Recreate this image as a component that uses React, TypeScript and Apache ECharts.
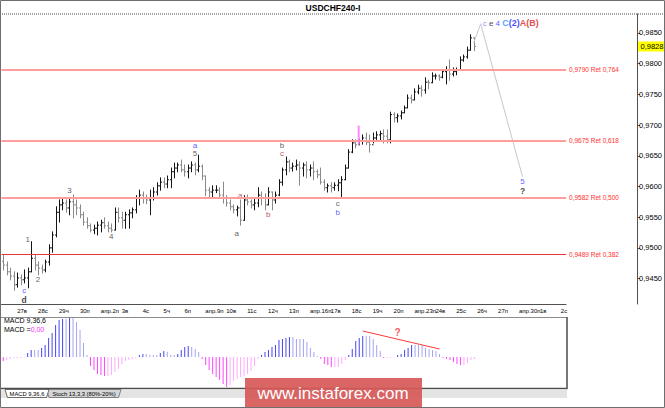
import React, { useEffect, useRef } from 'react';
import * as echarts from 'echarts';

// trading days on the time axis (weekends are skipped by the terminal)
const tradingDays = [
  '03.26', '03.27', '03.28', '03.29', '03.30', '04.02', '04.03', '04.04', '04.05', '04.06',
  '04.09', '04.10', '04.11', '04.12', '04.13', '04.16', '04.17', '04.18', '04.19', '04.20',
  '04.23', '04.24', '04.25', '04.26', '04.27', '04.30', '05.01', '05.02',
];
// labels of days 1..27 (first visible day has no label)
const dayLabels = [
  '27в', '28с', '29ч', '30п', 'апр.2п', '3в', '4с', '5ч', '6п', 'апр.9п',
  '10в', '11с', '12ч', '13п', 'апр.16п', '17в', '18с', '19ч', '20п', 'апр.23п',
  '24в', '25с', '26ч', '27п', 'апр.30п', '1в', '2с',
];
const barCount = 162;

const barOpen = [
  0.9478, 0.9472, 0.9461, 0.9454, 0.944, 0.9451, 0.9448, 0.9451, 0.9461, 0.9483,
  0.9472, 0.9467, 0.9464, 0.9477, 0.95, 0.9521, 0.9558, 0.957, 0.9573, 0.9565,
  0.9575, 0.957, 0.9565, 0.9554, 0.9542, 0.9536, 0.9529, 0.9532, 0.9537, 0.9541,
  0.9536, 0.9532, 0.9529, 0.9558, 0.9549, 0.9545, 0.9554, 0.9557, 0.9562, 0.9581,
  0.9586, 0.9581, 0.9578, 0.9581, 0.9591, 0.9601, 0.9607, 0.9604, 0.9611, 0.9624,
  0.963, 0.9635, 0.9627, 0.9624, 0.963, 0.9635, 0.9627, 0.9633, 0.9617, 0.9594,
  0.9591, 0.9594, 0.9594, 0.9586, 0.9581, 0.9573, 0.9567, 0.9562, 0.9565, 0.9545,
  0.9578, 0.9575, 0.957, 0.9573, 0.9586, 0.9581, 0.957, 0.9591, 0.9578, 0.9586,
  0.9607, 0.9627, 0.964, 0.963, 0.9633, 0.9635, 0.963, 0.9635, 0.9627, 0.963,
  0.9624, 0.9619, 0.9607, 0.9598, 0.9601, 0.9598, 0.9602, 0.9606, 0.9611, 0.963,
  0.9656, 0.9671, 0.9668, 0.9674, 0.9679, 0.9672, 0.9668, 0.9679, 0.9684, 0.9686,
  0.9682, 0.9676, 0.9717, 0.9712, 0.9715, 0.972, 0.9728, 0.9744, 0.9741, 0.9754,
  0.976, 0.9757, 0.977, 0.9769, 0.978, 0.978, 0.9778, 0.9787, 0.979, 0.9783,
  0.9787, 0.979, 0.9806, 0.9811, 0.9822, 0.9842,
];
const barHigh = [
  0.9488, 0.9477, 0.9467, 0.9461, 0.9459, 0.9456, 0.9464, 0.9467, 0.951, 0.9488,
  0.9477, 0.9472, 0.948, 0.9505, 0.9526, 0.9567, 0.9578, 0.9581, 0.9578, 0.9581,
  0.9586, 0.9578, 0.957, 0.9558, 0.9549, 0.9539, 0.9537, 0.9542, 0.9545, 0.9549,
  0.9542, 0.9539, 0.9565, 0.9565, 0.9558, 0.9558, 0.9562, 0.9565, 0.9585, 0.9594,
  0.9591, 0.9586, 0.9594, 0.9598, 0.9606, 0.9614, 0.9614, 0.9617, 0.963, 0.9638,
  0.9638, 0.9643, 0.9635, 0.9635, 0.964, 0.9638, 0.9651, 0.9635, 0.9617, 0.9598,
  0.9601, 0.9601, 0.9598, 0.9607, 0.9585, 0.9578, 0.957, 0.9568, 0.9578, 0.9585,
  0.9586, 0.9578, 0.9581, 0.9598, 0.9591, 0.9588, 0.9598, 0.9591, 0.9591, 0.9611,
  0.963, 0.9648, 0.9643, 0.9638, 0.9643, 0.964, 0.9638, 0.964, 0.9635, 0.964,
  0.9627, 0.963, 0.9611, 0.9604, 0.9606, 0.9606, 0.9611, 0.9616, 0.9635, 0.966,
  0.9676, 0.9676, 0.9677, 0.9684, 0.9687, 0.9684, 0.9687, 0.9689, 0.969, 0.9692,
  0.9692, 0.9721, 0.972, 0.9718, 0.9723, 0.9731, 0.9749, 0.9749, 0.9759, 0.9765,
  0.9764, 0.9777, 0.9773, 0.9785, 0.9783, 0.9782, 0.979, 0.9795, 0.9806, 0.9793,
  0.9793, 0.9811, 0.9814, 0.9827, 0.9847, 0.9842,
];
const barLow = [
  0.9464, 0.9456, 0.9448, 0.9431, 0.9436, 0.944, 0.9443, 0.9435, 0.9461, 0.9464,
  0.9456, 0.9459, 0.9461, 0.9472, 0.9493, 0.9518, 0.9542, 0.9562, 0.9558, 0.9554,
  0.9549, 0.9554, 0.9549, 0.9537, 0.9532, 0.9526, 0.9523, 0.9521, 0.9526, 0.9532,
  0.9526, 0.9526, 0.9529, 0.9542, 0.9532, 0.9532, 0.9532, 0.9549, 0.9557, 0.957,
  0.9573, 0.9572, 0.9554, 0.9578, 0.9586, 0.9594, 0.9598, 0.9598, 0.9598, 0.9614,
  0.9624, 0.9624, 0.9617, 0.9614, 0.9624, 0.9619, 0.9624, 0.9611, 0.9585, 0.9581,
  0.9583, 0.959, 0.9583, 0.9573, 0.9568, 0.9562, 0.9557, 0.9552, 0.9537, 0.9545,
  0.957, 0.9565, 0.9562, 0.9567, 0.957, 0.9562, 0.957, 0.9562, 0.9573, 0.9585,
  0.9602, 0.9619, 0.9624, 0.9625, 0.9627, 0.9602, 0.9617, 0.9614, 0.9617, 0.9611,
  0.9614, 0.9604, 0.9594, 0.9591, 0.9591, 0.9594, 0.9593, 0.9581, 0.9611, 0.963,
  0.9655, 0.9663, 0.9668, 0.9669, 0.9668, 0.9656, 0.9671, 0.9674, 0.9676, 0.9671,
  0.9671, 0.9671, 0.9705, 0.9705, 0.971, 0.972, 0.9728, 0.9736, 0.9741, 0.9751,
  0.9747, 0.9752, 0.9759, 0.9769, 0.9775, 0.9773, 0.9777, 0.9767, 0.9773, 0.978,
  0.9782, 0.979, 0.9804, 0.9809, 0.9822, 0.9821,
];
const barClose = [
  0.9472, 0.9461, 0.9454, 0.944, 0.9451, 0.9448, 0.9451, 0.9461, 0.9483, 0.9472,
  0.9467, 0.9464, 0.9477, 0.95, 0.9521, 0.9558, 0.957, 0.9573, 0.9565, 0.9575,
  0.957, 0.9565, 0.9554, 0.9542, 0.9536, 0.9529, 0.9532, 0.9537, 0.9541, 0.9536,
  0.9532, 0.9529, 0.9558, 0.9549, 0.9545, 0.9554, 0.9557, 0.9562, 0.9581, 0.9586,
  0.9581, 0.9578, 0.9581, 0.9591, 0.9601, 0.9607, 0.9604, 0.9611, 0.9624, 0.963,
  0.9635, 0.9627, 0.9624, 0.963, 0.9635, 0.9627, 0.9633, 0.9617, 0.9594, 0.9591,
  0.9594, 0.9594, 0.9586, 0.9581, 0.9573, 0.9567, 0.9562, 0.9565, 0.9545, 0.9578,
  0.9575, 0.957, 0.9573, 0.9586, 0.9581, 0.957, 0.9591, 0.9578, 0.9586, 0.9607,
  0.9627, 0.964, 0.963, 0.9633, 0.9635, 0.963, 0.9635, 0.9627, 0.963, 0.9624,
  0.9619, 0.9607, 0.9598, 0.9601, 0.9598, 0.9602, 0.9606, 0.9611, 0.963, 0.9656,
  0.9671, 0.9668, 0.9674, 0.9679, 0.9672, 0.9668, 0.9679, 0.9684, 0.9686, 0.9682,
  0.9676, 0.9717, 0.9712, 0.9715, 0.972, 0.9728, 0.9744, 0.9741, 0.9754, 0.976,
  0.9757, 0.977, 0.9769, 0.978, 0.978, 0.9778, 0.9787, 0.979, 0.9783, 0.9787,
  0.979, 0.9806, 0.9811, 0.9822, 0.9842, 0.9828,
];

// MACD 9,36,6 histogram
const macdHist = [
  -4, -3, -2, -1, -1, -1, -0.5,
  4, 7, 7, 7, 9, 12, 19, 24, 32, 37, 38, 38, 39, 39, 35, 27, 14, 2,
  -9, -13, -17, -18, -19, -19, -18, -15, -12, -7, -4, -3, -2, -1,
  2, 3, 3, 2, 2, 2, 4, 6, 5, 2, 2, 3, 7, 10, 11, 10, 8, 5,
  -2, -8, -13, -17, -20, -23, -27, -30, -28, -24, -22, -20, -19, -17, -14, -9, -2,
  2, 5, 7, 10, 12, 17, 18, 19, 20, 20, 18, 18, 18, 15, 9, 5, 1,
  -2, -7, -8, -10, -10, -10, -7, -3,
  2, 8, 16, 19, 21, 21, 21, 18, 12, 6,
  -1, -1, -1, -0.5,
  2, 3, 7, 9, 12, 12, 12, 12, 9, 8, 7, 6, 3,
  -1, -2, -3, -5, -7, -8, -8, -6, -3, -2,
];

const priceTicks = [0.945, 0.95, 0.955, 0.96, 0.965, 0.97, 0.975, 0.98, 0.985];
const fibPrices = [0.979, 0.9675, 0.9582, 0.9489];
const fibRatios = ['0,764', '0,618', '0,500', '0,382'];

// wave counts: bar index, price, text, tone
const waveMarks = [
  { bar: 6, price: 0.9431, text: 'c', tone: 'blue' },
  { bar: 6, price: 0.9415, text: 'd', tone: 'bold' },
  { bar: 7, price: 0.9513, text: '1', tone: 'dark' },
  { bar: 10, price: 0.9448, text: '2', tone: 'dark' },
  { bar: 19, price: 0.9594, text: '3', tone: 'dark' },
  { bar: 31, price: 0.9519, text: '4', tone: 'dark' },
  { bar: 55, price: 0.9667, text: 'a', tone: 'blue' },
  { bar: 55, price: 0.9653, text: '5', tone: 'dark' },
  { bar: 67, price: 0.9524, text: 'a', tone: 'dark' },
  { bar: 68, price: 0.9586, text: 'a', tone: 'red' },
  { bar: 76, price: 0.9554, text: 'b', tone: 'red' },
  { bar: 80, price: 0.9667, text: 'b', tone: 'dark' },
  { bar: 80, price: 0.9653, text: 'c', tone: 'red' },
  { bar: 96, price: 0.9572, text: 'c', tone: 'dark' },
  { bar: 96, price: 0.9558, text: 'b', tone: 'blue' },
  { bar: 149, price: 0.9608, text: '5', tone: 'blue' },
  { bar: 149, price: 0.9592, text: '?', tone: 'bold' },
];
const topMark = [137, 0.9866];
const projectionPath = [[135, 0.9834], [137, 0.9865], [149, 0.9616]];
const markerBar = 102;
const markerRange = [0.9699, 0.9668];
const macdTrend = [[103, 26], [125, 8]];
const macdQuestion = [113, 25];

const toneStyle: Record<string, any> = {
  blue: { color: '#3434ff', fontSize: 8 },
  red: { color: '#a52a2a', fontSize: 8 },
  dark: { color: '#333333', fontSize: 8 },
  bold: { color: '#111111', fontSize: 8.5, fontWeight: 'bold' },
};

const fmtPrice = (v: number) => v.toFixed(4).replace('.', ',');
const isDayStart = (i: number) => i >= 4 && (i - 4) % 6 === 0;

const categories: string[] = [];
tradingDays.forEach((d, k) => {
  for (let h = 0; h < 24; h += 4) {
    if (k === 0 && h < 8) continue;
    if (categories.length < barCount) categories.push(`${d} ${h}:00`);
  }
});

const FONT = '"Liberation Sans", Arial, sans-serif';

const App: React.FC = () => {
  const ref = useRef<HTMLDivElement>(null);
  useEffect(() => {
    const chart = echarts.init(ref.current as HTMLDivElement, null, { renderer: 'svg' });
    const ohlc = barClose.map((c, i) => [i, barOpen[i], barHigh[i], barLow[i], c]);
    const macdData = macdHist.map((v, i) => {
      const prev = i > 0 ? macdHist[i - 1] : 0;
      let color;
      if (v >= 0) color = v > prev ? '#4646f0' : '#a4a4f2';
      else color = v < prev ? '#ff44ff' : '#ffaaff';
      return { value: v, itemStyle: { color } };
    });

    const option: any = {
      animation: false,
      backgroundColor: '#ffffff',
      textStyle: { fontFamily: FONT },
      grid: [
        { left: 1.5, top: 14, width: 565.4, height: 290 },
        { left: 1.5, top: 317, width: 565.4, height: 71 },
      ],
      xAxis: [
        {
          type: 'category',
          gridIndex: 0,
          data: categories,
          axisLine: { lineStyle: { color: '#505050', width: 1 } },
          axisTick: { interval: isDayStart, length: 3, lineStyle: { color: '#505050' } },
          axisLabel: {
            interval: isDayStart,
            formatter: (_v: string, i: number) => dayLabels[(i - 4) / 6] ?? '',
            align: 'left',
            fontSize: 6,
            color: '#000',
            margin: 3.5,
          },
          splitLine: { show: false },
        },
        { type: 'category', gridIndex: 1, data: categories, show: false },
      ],
      yAxis: [
        {
          type: 'value',
          gridIndex: 0,
          position: 'right',
          offset: 71,
          min: 0.94086,
          max: 0.98809,
          axisLine: { show: true, lineStyle: { color: '#505050' } },
          axisTick: { show: true, length: 3, customValues: priceTicks, lineStyle: { color: '#505050' } },
          axisLabel: { customValues: priceTicks, formatter: fmtPrice, fontSize: 7.5, color: '#000', margin: 2 },
          splitLine: { show: false },
        },
        { type: 'value', gridIndex: 1, min: -31, max: 40, show: false },
      ],
      series: [
        {
          type: 'custom',
          xAxisIndex: 0,
          yAxisIndex: 0,
          data: ohlc,
          encode: { x: 0, y: [1, 2, 3, 4] },
          silent: true,
          renderItem: (_p: any, api: any) => {
            const i = api.value(0);
            const o = api.coord([i, api.value(1)]);
            const h = api.coord([i, api.value(2)]);
            const l = api.coord([i, api.value(3)]);
            const c = api.coord([i, api.value(4)]);
            const x = Math.round(o[0]) + 0.5;
            const stroke = api.value(4) >= api.value(1) ? '#151515' : '#8a8a8a';
            const style = { stroke, lineWidth: 1 };
            return {
              type: 'group',
              children: [
                { type: 'line', shape: { x1: x, y1: h[1] - 0.5, x2: x, y2: l[1] + 0.5 }, style },
                { type: 'line', shape: { x1: x - 1.5, y1: o[1], x2: x, y2: o[1] }, style },
                { type: 'line', shape: { x1: x, y1: c[1], x2: x + 1.5, y2: c[1] }, style },
              ],
            };
          },
        },
        {
          type: 'line',
          xAxisIndex: 0,
          yAxisIndex: 0,
          data: barClose,
          symbol: 'none',
          silent: true,
          lineStyle: { opacity: 0 },
          z: 1,
          markLine: {
            silent: true,
            symbol: 'none',
            precision: 4,
            data: fibPrices.map((p, k) => ({
              yAxis: p,
              lineStyle: {
                color: k === 3 ? '#e8383a' : '#ff9c9c',
                width: k === 3 ? 1.2 : 2,
                type: 'solid',
              },
              label: {
                show: true,
                position: 'end',
                distance: 3,
                formatter: `${fmtPrice(p)} Ret ${fibRatios[k]}`,
                color: '#ff3030',
                fontSize: 6.5,
                fontFamily: FONT,
              },
            })),
          },
        },
        {
          type: 'line',
          xAxisIndex: 0,
          yAxisIndex: 0,
          data: projectionPath,
          symbol: 'none',
          silent: true,
          lineStyle: { color: '#c6c6ce', width: 1 },
        },
        {
          type: 'line',
          xAxisIndex: 0,
          yAxisIndex: 0,
          data: markerRange.map((p) => [markerBar, p]),
          symbol: 'none',
          silent: true,
          lineStyle: { color: '#ff88ff', width: 2 },
        },
        {
          type: 'scatter',
          xAxisIndex: 0,
          yAxisIndex: 0,
          symbolSize: 0.1,
          silent: true,
          itemStyle: { color: 'transparent' },
          data: waveMarks.map((m) => ({
            value: [m.bar, m.price],
            label: { show: true, position: 'inside', formatter: m.text, fontFamily: FONT, lineHeight: 8, ...toneStyle[m.tone] },
          })),
        },
        {
          type: 'scatter',
          xAxisIndex: 0,
          yAxisIndex: 0,
          symbolSize: 0.1,
          silent: true,
          itemStyle: { color: 'transparent' },
          data: [
            {
              value: topMark,
              label: {
                show: true,
                position: 'right',
                distance: 2,
                formatter: '{s|c} {e|e} {f|4} {C|C}{p|(2)}{r|A(B)}',
                fontSize: 8,
                rich: {
                  s: { color: '#7a72ff', fontSize: 8, fontFamily: FONT },
                  e: { color: '#111', fontSize: 8, fontFamily: FONT },
                  f: { color: '#3030ff', fontSize: 8, fontFamily: FONT },
                  C: { color: '#1e90ff', fontSize: 9, fontWeight: 'bold', fontFamily: FONT },
                  p: { color: '#2020ff', fontSize: 9, fontWeight: 'bold', fontFamily: FONT },
                  r: { color: '#e02020', fontSize: 9, fontWeight: 'bold', fontFamily: FONT },
                },
              },
            },
          ],
        },
        {
          type: 'bar',
          xAxisIndex: 1,
          yAxisIndex: 1,
          data: macdData,
          barWidth: 1,
          silent: true,
        },
        {
          type: 'line',
          xAxisIndex: 1,
          yAxisIndex: 1,
          data: macdTrend,
          symbol: 'none',
          silent: true,
          lineStyle: { color: '#ff3a3a', width: 1 },
        },
        {
          type: 'scatter',
          xAxisIndex: 1,
          yAxisIndex: 1,
          symbolSize: 0.1,
          silent: true,
          itemStyle: { color: 'transparent' },
          data: [
            {
              value: macdQuestion,
              label: { show: true, position: 'inside', formatter: '?', color: '#ff2a2a', fontSize: 10, fontWeight: 'bold', fontFamily: FONT },
            },
          ],
        },
      ],
    };
    chart.setOption(option);

    const lastPrice = barClose[barClose.length - 1];
    const py = chart.convertToPixel({ yAxisIndex: 0 }, lastPrice) as number;
    const font = (size: number, weight = 'normal') => `${weight} ${size}px ${FONT}`;

    chart.setOption({
      graphic: [
        { type: 'line', silent: true, shape: { x1: 0, y1: 14, x2: 665, y2: 14 }, style: { stroke: '#a6a6a6', lineWidth: 2, lineDash: [1, 1] } },
        { type: 'text', silent: true, x: 333, y: 7.5, style: { text: 'USDCHF240-I', font: font(8.5, 'bold'), fill: '#000', align: 'center', verticalAlign: 'middle' } },
        { type: 'line', silent: true, shape: { x1: 0, y1: 317.5, x2: 567, y2: 317.5 }, style: { stroke: '#8c8c8c', lineWidth: 1 } },
        { type: 'polyline', silent: true, shape: { points: [[567, 317], [567, 388.5], [0, 388.5]] }, style: { stroke: '#4c4c4c', lineWidth: 1.5, fill: 'none' } },
        { type: 'rect', silent: true, shape: { x: 1, y: 389.5, width: 566, height: 8.5 }, style: { fill: '#e4e4e4' } },
        { type: 'polygon', silent: true, shape: { points: [[46.5, 389.5], [121, 389.5], [118.5, 397.5], [49, 397.5]] }, style: { fill: '#d6d6d6', stroke: '#6a6a6a', lineWidth: 0.8 } },
        { type: 'polygon', silent: true, shape: { points: [[5, 389.5], [49, 389.5], [46.5, 397.5], [7.5, 397.5]] }, style: { fill: '#ffffff', stroke: '#4a4a4a', lineWidth: 0.8 } },
        { type: 'text', silent: true, x: 27, y: 394, style: { text: 'MACD 9,36,6', font: font(5.8), fill: '#000', align: 'center', verticalAlign: 'middle' } },
        { type: 'text', silent: true, x: 84, y: 394, style: { text: 'Stoch 13,3,3 (80%-20%)', font: font(5.8), fill: '#000', align: 'center', verticalAlign: 'middle' } },
        { type: 'text', silent: true, x: 4, y: 320.5, style: { text: 'MACD 9,36,6', font: font(7), fill: '#000', verticalAlign: 'middle' } },
        {
          type: 'text',
          silent: true,
          x: 4,
          y: 329,
          style: {
            text: '{k|MACD =}{v|0,00}',
            font: font(7),
            verticalAlign: 'middle',
            rich: { k: { fill: '#000', font: font(7) }, v: { fill: '#ff2cff', font: font(7) } },
          },
        },
        { type: 'rect', silent: true, shape: { x: 637, y: py - 5, width: 27, height: 10 }, style: { fill: '#ffff00' } },
        { type: 'text', silent: true, x: 640.5, y: py, style: { text: fmtPrice(lastPrice), font: font(7.5), fill: '#000', verticalAlign: 'middle' } },
        { type: 'rect', silent: true, z: 50, shape: { x: 245, y: 378, width: 177, height: 29.5 }, style: { fill: '#d65858', opacity: 0.92 } },
        { type: 'text', silent: true, z: 51, x: 333, y: 393, style: { text: 'www.instaforex.com', font: font(17), fill: '#ffffff', align: 'center', verticalAlign: 'middle' } },
        { type: 'rect', silent: true, z: 60, shape: { x: 0.5, y: 0.5, width: 664, height: 407 }, style: { fill: 'none', stroke: '#6e6e6e', lineWidth: 1 } },
      ],
    });

    return () => {
      chart.dispose();
    };
  }, []);

  return <div ref={ref} style={{ position: 'absolute', left: 0, top: 0, width: 665, height: 408 }} />;
};

export default App;
